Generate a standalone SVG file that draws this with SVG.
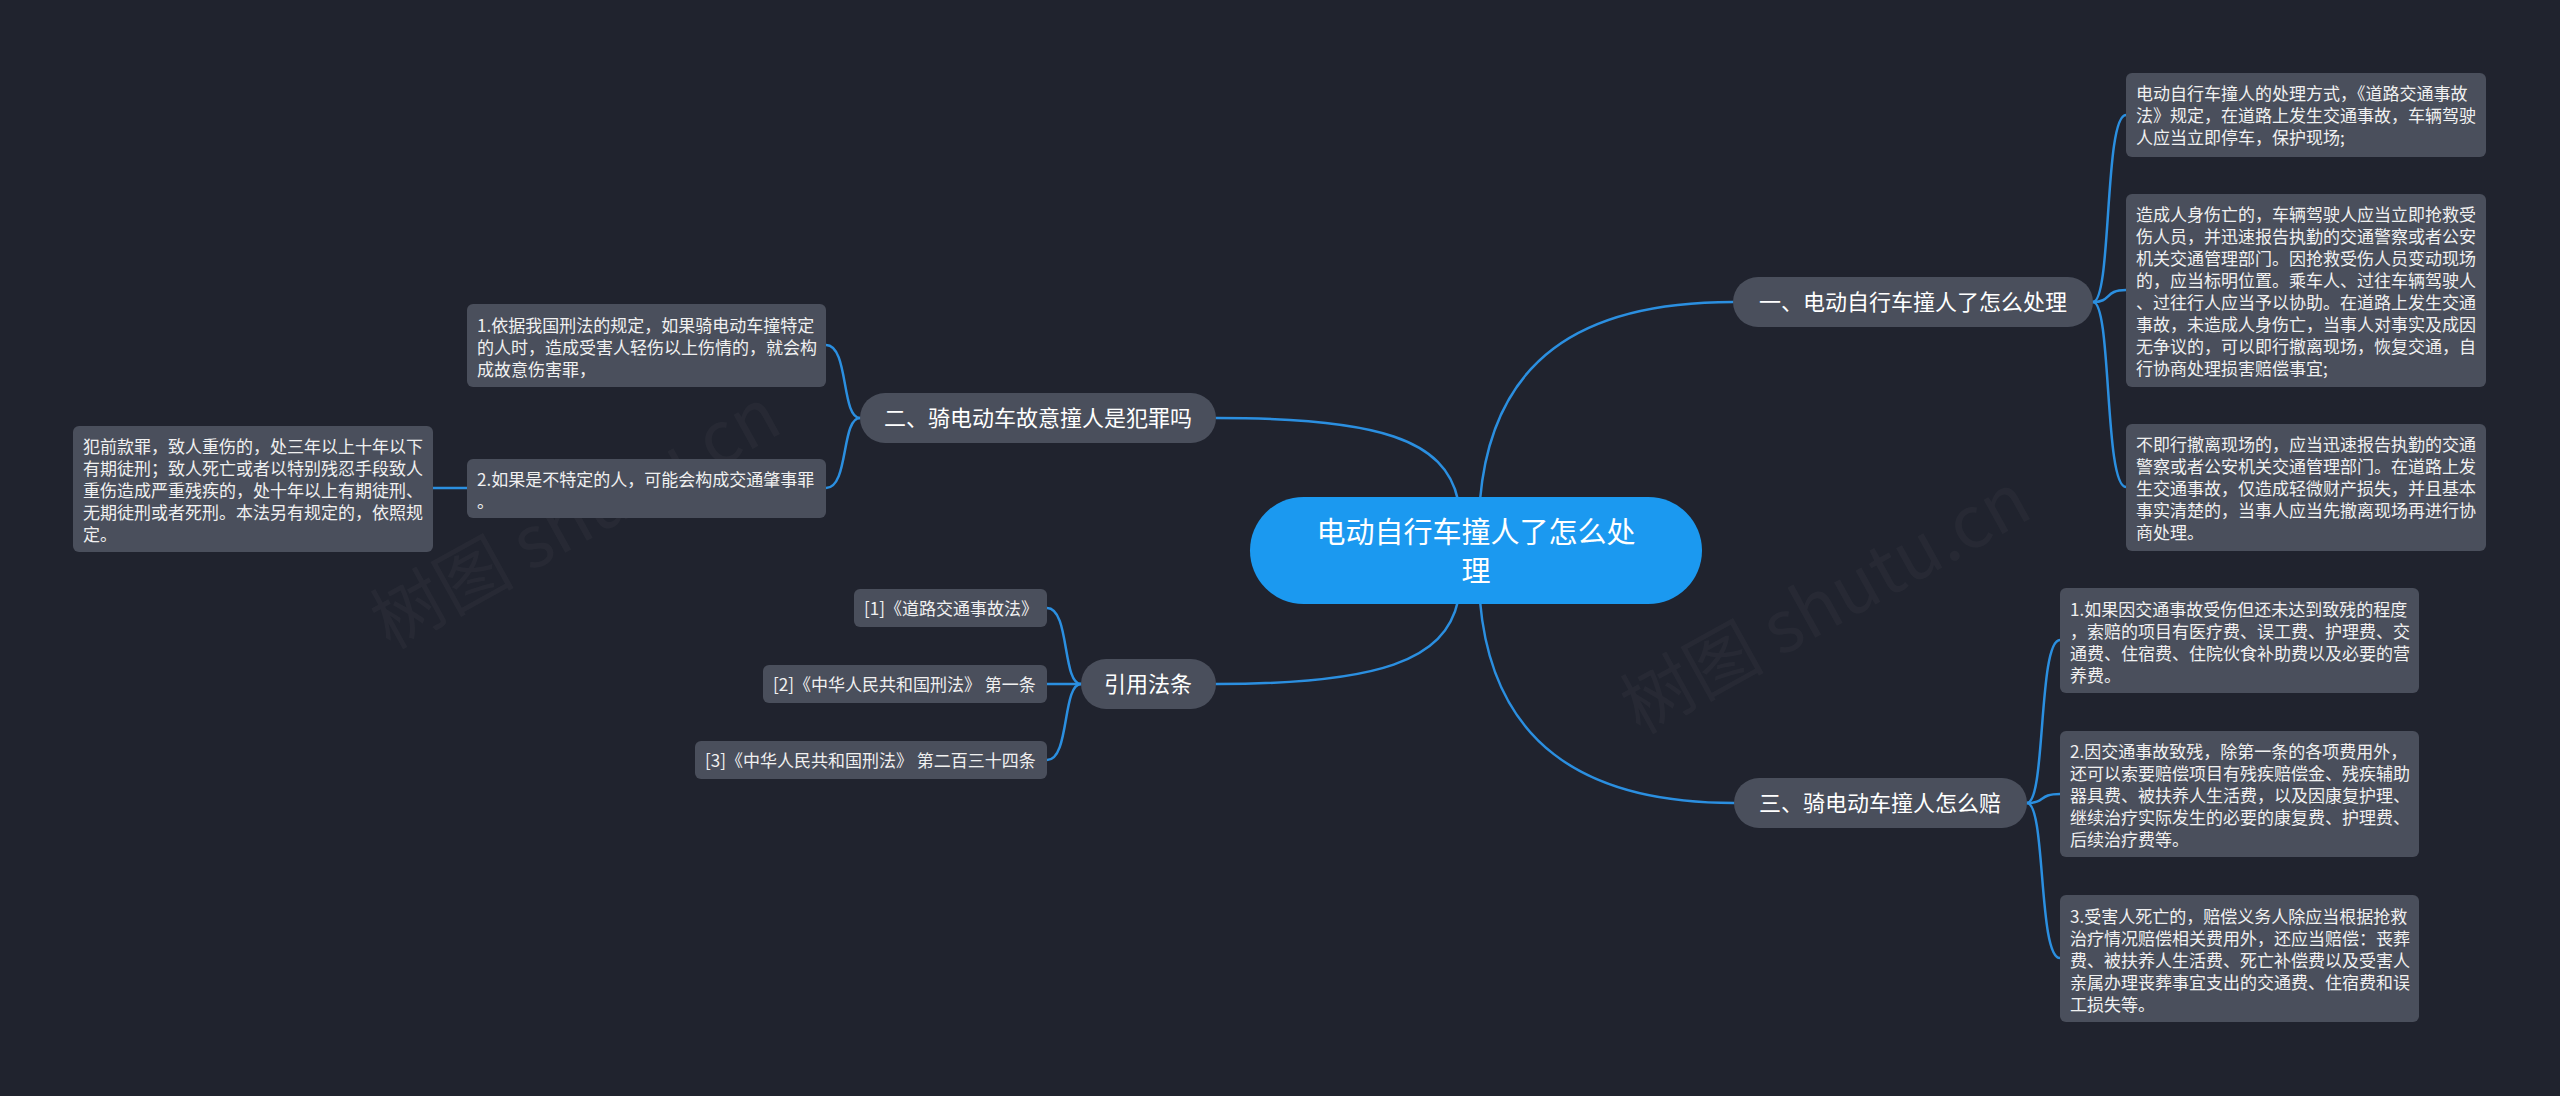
<svg xmlns="http://www.w3.org/2000/svg" width="2560" height="1096" viewBox="0 0 2560 1096">
<style>
.bg{fill:#20232e}
.wm{font-family:"Noto Sans CJK SC","Noto Sans",sans-serif;font-size:72px;fill:#ffffff;fill-opacity:0.03}
.c{fill:none;stroke:#2b8fe0;stroke-width:2.5;stroke-linecap:round}
.root rect{fill:#1b99f0}
.root text{font-family:"Noto Sans CJK SC","Noto Sans",sans-serif;font-size:29px;fill:#ffffff;text-anchor:middle}
.br rect{fill:#4a4f5c}
.br text{font-family:"Noto Sans CJK SC","Noto Sans",sans-serif;font-size:22px;fill:#ffffff;text-anchor:middle}
.lf rect{fill:#4a4f5c}
.lf text{font-family:"Noto Sans CJK SC","Noto Sans",sans-serif;font-size:17px;fill:#f0f0f0}
</style>
<rect class="bg" x="0" y="0" width="2560" height="1096"/>
<text class="wm" transform="translate(390,650) rotate(-29)">树图 shutu.cn</text>
<text class="wm" transform="translate(1640,735) rotate(-29)">树图 shutu.cn</text>

<g id="connectors">
<path class="c" d="M1480,500 C1492,360 1580,302 1733,302"/>
<path class="c" d="M1458,500 C1445,440 1380,418 1216,418"/>
<path class="c" d="M1458,601 C1445,660 1380,684 1216,684"/>
<path class="c" d="M1480,601 C1492,740 1580,803 1734,803"/>
<path class="c" d="M2093,302 C2112,302 2104,115 2126,115"/>
<path class="c" d="M2093,302 C2112,302 2104,290 2126,290"/>
<path class="c" d="M2093,302 C2112,302 2104,487 2126,487"/>
<path class="c" d="M2027,803 C2046,803 2038,640 2060,640"/>
<path class="c" d="M2027,803 C2046,803 2038,794 2060,794"/>
<path class="c" d="M2027,803 C2046,803 2038,958 2060,958"/>
<path class="c" d="M860,418 C841,418 849,345 826,345"/>
<path class="c" d="M860,418 C841,418 849,488 826,488"/>
<path class="c" d="M1081,684 C1062,684 1070,608 1047,608"/>
<path class="c" d="M1081,684 C1062,684 1070,684 1047,684"/>
<path class="c" d="M1081,684 C1062,684 1070,760 1047,760"/>
<path class="c" d="M467,488 L433,488"/>
</g>

<g id="root" class="root">
<rect x="1250" y="497" width="452" height="107" rx="53.5"/>
<text x="1476" y="543">电动自行车撞人了怎么处</text>
<text x="1476" y="582">理</text>
</g>

<g id="branch1" class="br">
<rect x="1733" y="277" width="360" height="50" rx="25"/>
<text x="1913" y="310">一、电动自行车撞人了怎么处理</text>
</g>
<g id="branch2" class="br">
<rect x="860" y="393" width="356" height="50" rx="25"/>
<text x="1038" y="426">二、骑电动车故意撞人是犯罪吗</text>
</g>
<g id="branch3" class="br">
<rect x="1734" y="778" width="293" height="50" rx="25"/>
<text x="1880" y="811">三、骑电动车撞人怎么赔</text>
</g>
<g id="branch4" class="br">
<rect x="1081" y="659" width="135" height="50" rx="25"/>
<text x="1148" y="692">引用法条</text>
</g>

<g id="leaf1a" class="lf">
<rect x="2126" y="73" width="360" height="84" rx="6"/>
<text x="2136" y="100">电动自行车撞人的处理方式，《道路交通事故</text>
<text x="2136" y="122">法》规定，在道路上发生交通事故，车辆驾驶</text>
<text x="2136" y="144">人应当立即停车，保护现场;</text>
</g>
<g id="leaf1b" class="lf">
<rect x="2126" y="194" width="360" height="193" rx="6"/>
<text x="2136" y="221">造成人身伤亡的，车辆驾驶人应当立即抢救受</text>
<text x="2136" y="243">伤人员，并迅速报告执勤的交通警察或者公安</text>
<text x="2136" y="265">机关交通管理部门。因抢救受伤人员变动现场</text>
<text x="2136" y="287">的，应当标明位置。乘车人、过往车辆驾驶人</text>
<text x="2136" y="309">、过往行人应当予以协助。在道路上发生交通</text>
<text x="2136" y="331">事故，未造成人身伤亡，当事人对事实及成因</text>
<text x="2136" y="353">无争议的，可以即行撤离现场，恢复交通，自</text>
<text x="2136" y="375">行协商处理损害赔偿事宜;</text>
</g>
<g id="leaf1c" class="lf">
<rect x="2126" y="424" width="360" height="127" rx="6"/>
<text x="2136" y="451">不即行撤离现场的，应当迅速报告执勤的交通</text>
<text x="2136" y="473">警察或者公安机关交通管理部门。在道路上发</text>
<text x="2136" y="495">生交通事故，仅造成轻微财产损失，并且基本</text>
<text x="2136" y="517">事实清楚的，当事人应当先撤离现场再进行协</text>
<text x="2136" y="539">商处理。</text>
</g>

<g id="leaf3a" class="lf">
<rect x="2060" y="588" width="359" height="105" rx="6"/>
<text x="2070" y="616">1.如果因交通事故受伤但还未达到致残的程度</text>
<text x="2070" y="638">，索赔的项目有医疗费、误工费、护理费、交</text>
<text x="2070" y="660">通费、住宿费、住院伙食补助费以及必要的营</text>
<text x="2070" y="682">养费。</text>
</g>
<g id="leaf3b" class="lf">
<rect x="2060" y="731" width="359" height="126" rx="6"/>
<text x="2070" y="758">2.因交通事故致残，除第一条的各项费用外，</text>
<text x="2070" y="780">还可以索要赔偿项目有残疾赔偿金、残疾辅助</text>
<text x="2070" y="802">器具费、被扶养人生活费，以及因康复护理、</text>
<text x="2070" y="824">继续治疗实际发生的必要的康复费、护理费、</text>
<text x="2070" y="846">后续治疗费等。</text>
</g>
<g id="leaf3c" class="lf">
<rect x="2060" y="895" width="359" height="127" rx="6"/>
<text x="2070" y="923">3.受害人死亡的，赔偿义务人除应当根据抢救</text>
<text x="2070" y="945">治疗情况赔偿相关费用外，还应当赔偿：丧葬</text>
<text x="2070" y="967">费、被扶养人生活费、死亡补偿费以及受害人</text>
<text x="2070" y="989">亲属办理丧葬事宜支出的交通费、住宿费和误</text>
<text x="2070" y="1011">工损失等。</text>
</g>

<g id="leaf2a" class="lf">
<rect x="467" y="304" width="359" height="83" rx="6"/>
<text x="477" y="332">1.依据我国刑法的规定，如果骑电动车撞特定</text>
<text x="477" y="354">的人时，造成受害人轻伤以上伤情的，就会构</text>
<text x="477" y="376">成故意伤害罪，</text>
</g>
<g id="leaf2b" class="lf">
<rect x="467" y="459" width="359" height="59" rx="6"/>
<text x="477" y="486">2.如果是不特定的人，可能会构成交通肇事罪</text>
<text x="477" y="508">。</text>
</g>
<g id="leaf2b1" class="lf">
<rect x="73" y="426" width="360" height="126" rx="6"/>
<text x="83" y="453">犯前款罪，致人重伤的，处三年以上十年以下</text>
<text x="83" y="475">有期徒刑；致人死亡或者以特别残忍手段致人</text>
<text x="83" y="497">重伤造成严重残疾的，处十年以上有期徒刑、</text>
<text x="83" y="519">无期徒刑或者死刑。本法另有规定的，依照规</text>
<text x="83" y="541">定。</text>
</g>

<g id="ref1" class="lf">
<rect x="854" y="589" width="193" height="38" rx="6"/>
<text x="864" y="615">[1]《道路交通事故法》</text>
</g>
<g id="ref2" class="lf">
<rect x="763" y="665" width="284" height="38" rx="6"/>
<text x="773" y="691">[2]《中华人民共和国刑法》 第一条</text>
</g>
<g id="ref3" class="lf">
<rect x="695" y="741" width="352" height="38" rx="6"/>
<text x="705" y="767">[3]《中华人民共和国刑法》 第二百三十四条</text>
</g>
</svg>
